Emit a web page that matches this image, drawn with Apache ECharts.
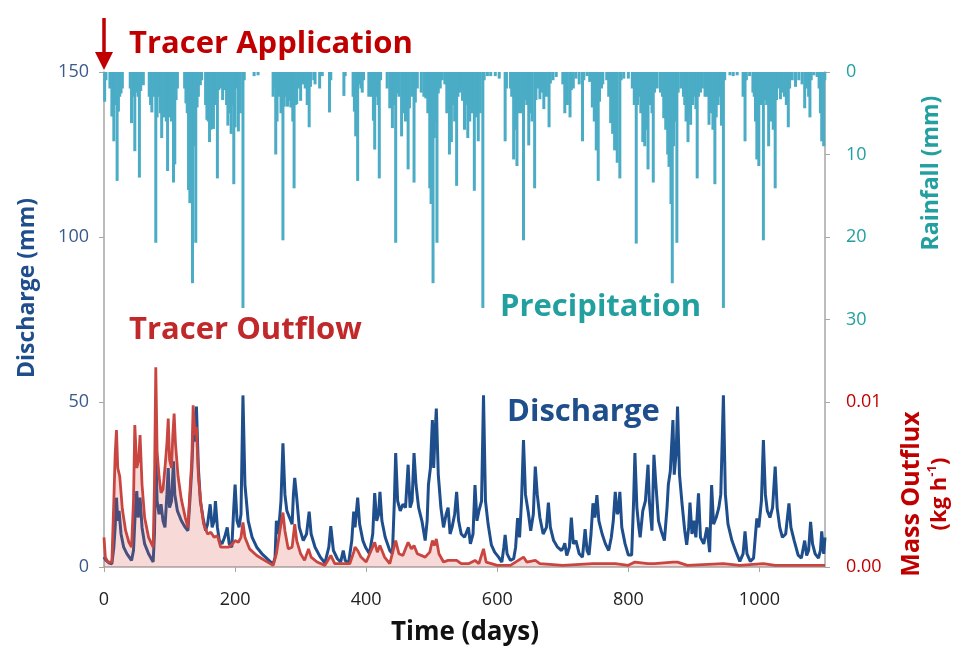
<!DOCTYPE html>
<html>
<head>
<meta charset="utf-8">
<script src="https://cdn.jsdelivr.net/npm/echarts@6/dist/echarts.min.js"></script>
<style>html,body{margin:0;padding:0;background:#fff;}#c{width:968px;height:655px;}</style>
</head>
<body>
<div id="c"></div>
<script>
// ---- Data ----
const xTicks = [0, 200, 400, 600, 800, 1000];
const dischargeTicks = [0, 50, 100, 150];
const rainTicks = [0, 10, 20, 30];
const outfluxTicks = [0, 0.01];

// Rainfall events: [day, mm]
const rainfall = [
[1,3.6],[3,1],[9,2],[12,5.4],[15,8.4],[17,4],[20,13.2],[22,4.8],[24,3],[26,2.6],[28,2],[40,2],[42,6.2],[44,3],[47,9.6],[49,2.5],[52,3],[54,12.8],[56,2.3],[58,1.5],[60,1.6],[69,3],[71,4],[73,4.9],[76,3],[79,20.7],[81,5.5],[84,3],[86,5],[88,8],[91,5.5],[93,4],[95,6],[97,12],[99,5.5],[101,4],[103,6],[106,13.4],[108,11.2],[110,3.4],[112,2],[123,2],[125,3.8],[127,5],[129,14.3],[131,15.9],[133,6],[135,25.6],[137,9],[140,20.7],[142,4.3],[144,3],[147,1.6],[149,1],[155,4],[157,5.8],[159,6],[161,8.5],[163,7],[165,5],[167,6.9],[170,4],[173,12.9],[175,2.2],[178,2],[181,3.4],[184,2.2],[187,4],[189,6.5],[192,5],[194,7.5],[196,4],[198,13.6],[200,6.7],[203,2],[205,7.2],[208,5],[212,28.6],[214,1],[229,0.5],[235,0.4],[258,3],[260,2],[262,10],[264,6],[267,3],[270,5],[273,20.4],[275,4.2],[278,3],[280,4.2],[283,3.5],[285,4.3],[288,6],[290,14.1],[292,4],[294,3.9],[297,2],[300,3.5],[303,1.5],[307,2],[310,4],[313,6.7],[315,1.8],[320,1],[322,1.5],[329,2],[333,0.5],[344,4.9],[346,1],[366,2.9],[368,0.5],
[380,3],[382,4.8],[384,7.8],[387,13.2],[389,1.5],[392,2],[394,2.5],[396,1],[404,3],[408,3],[411,5.9],[413,9.4],[416,3],[418,4],[420,12.9],[422,1],[432,2],[436,4.4],[440,6.8],[442,4],[445,20.7],[447,2.6],[450,3],[454,7.8],[457,5],[460,6],[464,11.8],[466,4.4],[470,3],[473,13.4],[475,3.7],[478,2],[484,2.5],[488,3],[491,3.2],[494,5],[497,14.1],[499,16],[502,25.6],[504,8],[506,6],[508,20.7],[510,2.6],[513,2],[516,1],[520,1.5],[523,5],[525,3.2],[527,10],[530,8.5],[532,4],[535,6],[538,13.8],[540,3],[543,2.5],[545,1.8],[547,3.5],[550,7],[552,4],[555,8],[558,6],[562,5],[565,14.4],[567,5.5],[569,3],[571,8.4],[574,5],[578,28.6],[580,1],[585,0.5],[590,0.5],[597,0.5],[603,0.8],[612,8.4],[614,2],[620,2],[622,3],[625,10.6],[628,7],[630,11.4],[633,5],[637,5],[640,20.4],[642,3.4],[645,4],[648,8.9],[650,5],[653,6],[657,14.1],[659,3.4],[662,2],[665,3.3],[668,2.5],[671,4.5],[675,3],[679,6.7],[681,1.4],[685,1],[690,0.6],[700,1.5],[703,5],[707,4],[711,5.5],[713,2.2],[716,2],[720,0.8],[725,1.5],[730,8.4],[732,1],[737,0.5],[741,1.2],[745,4.3],[748,6],[751,9.5],[754,13.2],[756,3.6],[759,2],[761,1.5],[767,1],[770,3],[773,6.2],[776,7.5],[779,9.5],[783,11],[787,12.9],[789,1],[793,0.8],[800,0.8],
[806,2],[809,4],[812,20.8],[814,4],[816,3],[819,5],[822,8.5],[825,9],[828,7],[830,11.8],[833,4],[836,5],[838,13.4],[840,2.5],[844,2],[849,2.5],[852,3],[854,5.6],[857,7],[860,10],[862,11.5],[865,16],[867,25.6],[869,9],[871,6],[874,20.7],[876,2.5],[880,2],[884,3],[886,4],[888,6],[891,8.5],[893,5],[895,6.4],[898,4],[900,3],[903,4.5],[905,12.9],[907,3],[910,2.5],[913,2],[917,3],[920,3],[923,6.4],[926,5],[929,7],[932,13.6],[934,5.5],[937,4],[940,3],[942,6.5],[945,28.6],[947,1],[955,0.4],[960,0.5],[966,0.4],[975,3],[978,8.4],[980,1],[985,0.5],[990,2.5],[992,3],[994,6],[996,10.6],[999,11.4],[1002,4],[1006,20.4],[1008,3.4],[1011,4],[1014,9],[1017,6],[1021,7],[1024,14.1],[1026,3.4],[1029,2],[1032,3.3],[1035,2.5],[1038,3],[1041,4],[1044,6.7],[1046,2],[1050,1],[1055,1.8],[1060,1],[1065,1.5],[1069,4.4],[1072,2],[1075,3],[1077,5.5],[1079,1],[1083,0.4],[1088,0.6],[1091,2],[1093,5],[1095,8.4],[1098,9],[1100,1]
];

// Discharge: [day, mm]
const discharge = [
[0,3],[3,2],[8,1.2],[12,1],[15,6],[17,12],[19,21],[21,14],[23,17],[26,10],[30,6],[35,4],[42,2],[45,5],[48,18],[50,23],[52,15],[55,21],[58,12],[62,7],[68,4],[75,1.5],[77,10],[79,36],[81,20],[84,16],[87,19],[90,14],[93,12],[96,22],[98,30],[100,18],[103,20],[106,32],[108,22],[112,17],[118,14],[124,12],[128,11],[131,20],[134,30],[137,46],[139,38],[141,48.6],[144,30],[147,20],[151,15],[155,11],[158,13],[162,19],[165,12],[168,14],[170,20],[173,12],[176,8],[180,7],[184,9],[188,12],[191,7],[195,6],[198,18],[200,25],[203,14],[206,12],[209,16],[212,52],[215,25],[220,14],[226,9],[233,6],[241,4],[250,2.3],[258,0.8],[261,3],[263,14],[266,10],[270,20],[273,37.5],[276,22],[279,17],[283,15],[287,13],[289,22],[291,27],[294,21],[298,12],[304,8],[309,10],[313,16.8],[316,10],[322,6],[330,3],[337,1.2],[343,6],[346,12.4],[350,5],[356,2.5],[361,1.5],[365,5],[368,2],[373,1],
[378,8],[381,16.8],[383,12],[387,21],[390,13],[395,8],[399,6],[405,4],[410,10],[413,22.4],[416,14],[419,16],[421,22.8],[424,14],[429,9],[436,5],[440,4],[443,20],[445,34.5],[448,20],[452,17],[456,19],[460,18],[464,31],[467,18],[470,20],[473,34.5],[476,25],[480,18],[485,14],[490,8],[493,14],[495,25],[498,30],[501,44.5],[503,30],[505,40],[507,48],[510,28],[514,18],[518,12],[522,16],[525,18],[528,10],[531,12],[535,16],[538,22.8],[541,14],[545,10],[550,9],[553,8.6],[556,12],[559,7],[563,10],[566,24.8],[569,14],[572,17],[576,20],[579,52],[582,20],[586,13],[591,6.7],[596,4.5],[602,3],[607,1.5],[610,6],[612,9.7],[615,4],[620,2],[625,2.5],[628,6],[631,14.8],[634,9],[637,20],[640,38.5],[643,22],[647,17],[651,11],[655,16],[658,30.4],[661,22],[665,15],[670,10],[675,12],[678,19.5],[681,12],[686,8],[692,6],[698,5],[701,6],[703,7.2],[706,3.5],[710,6],[713,15],[716,7],[720,8],[725,4],[730,3],[734,11.5],[737,5],[740,3.7],[743,10],[746,19.3],[749,15],[752,21.8],[755,14],[760,10],[765,7],[770,5],[774,9],[777,14],[780,22.8],[783,16],[785,17],[787,22.8],[790,12],[795,7],[800,3.6],[805,3.6],
[808,20],[810,34.5],[813,18],[816,12],[818,9],[822,17],[826,20],[830,31],[832,20],[836,11],[839,34],[842,25],[846,14],[850,11],[855,8],[859,18],[861,25],[864,29],[868,44.5],[870,28],[873,35],[875,48.6],[878,28],[882,19],[886,11],[889,6.7],[892,12],[894,19.5],[897,10],[900,14],[903,9],[907,22.3],[910,9],[915,7],[920,12],[924,4.5],[927,24.8],[930,13],[934,15],[938,18],[941,22],[945,52],[948,22],[952,13],[958,8],[964,4.7],[970,1.7],[975,4],[978,10.8],[981,4],[986,1.7],[991,2.7],[994,10],[996,14.7],[999,12],[1003,20],[1006,38.5],[1009,22],[1012,17],[1016,15],[1020,18],[1024,30.4],[1027,18],[1031,12],[1035,9],[1040,10],[1045,19.3],[1048,12],[1053,8],[1059,3.6],[1064,2.7],[1069,8],[1072,3.5],[1075,5],[1078,13.7],[1081,7],[1085,4],[1090,2.7],[1093,5],[1095,10.8],[1098,4],[1100,9]
];

// Tracer mass outflux: [day, kg/h]
const tracerOutflux = [
[0,0.0018],[2,0.0006],[6,0.0003],[12,0.0003],[15,0.004],[17,0.0068],[19,0.0083],[21,0.006],[24,0.0055],[28,0.0035],[33,0.0022],[38,0.0015],[42,0.0012],[45,0.004],[47,0.0086],[50,0.006],[53,0.0065],[55,0.008],[58,0.005],[62,0.003],[68,0.0018],[75,0.0012],[77,0.005],[79,0.0121],[81,0.007],[84,0.0055],[87,0.0045],[90,0.0047],[93,0.006],[96,0.0075],[98,0.009],[100,0.0065],[103,0.006],[105,0.008],[107,0.0093],[109,0.0075],[113,0.0055],[118,0.0041],[124,0.003],[128,0.0024],[131,0.0045],[134,0.0065],[136,0.0098],[139,0.008],[141,0.0085],[144,0.0055],[148,0.0038],[152,0.0026],[158,0.002],[163,0.0021],[168,0.0018],[173,0.0019],[178,0.0012],[184,0.0012],[190,0.0012],[196,0.0014],[200,0.0016],[205,0.0015],[209,0.0018],[212,0.0027],[215,0.0018],[222,0.0011],[233,0.0007],[245,0.0004],[258,0.0001],[263,0.0008],[268,0.0021],[273,0.0033],[276,0.0022],[281,0.0011],[287,0.0012],[291,0.0026],[294,0.0016],[300,0.0008],[306,0.0004],[312,0.0011],[316,0.0006],[325,0.0003],[337,0.0001],[346,0.0007],[352,0.0002],[368,0.0002],[375,0.0002],[381,0.0009],[383,0.0012],[387,0.001],[392,0.0006],[400,0.0003],[413,0.0015],[417,0.0009],[421,0.0013],[428,0.0006],[436,0.0002],[445,0.0016],[450,0.0008],[456,0.0007],[464,0.0015],[469,0.0011],[473,0.0013],[478,0.0008],[490,0.0006],[497,0.0009],[501,0.0016],[504,0.0013],[507,0.0017],[511,0.0008],[518,0.0003],[525,0.0004],[538,0.0004],[545,0.0002],[556,0.0002],[566,0.0004],[572,0.0002],[579,0.0011],[583,0.0003],[600,0.0001],[620,0.0001],[640,0.0006],[645,0.0003],[658,0.0004],[665,0.0002],[700,0.0001],[746,0.0002],[752,0.0002],[780,0.0002],[800,0.0001],[810,0.0003],[830,0.0002],[840,0.0002],[868,0.0003],[875,0.0003],[890,0.0001],[945,0.0002],[970,0.0001],[1006,0.0002],[1024,0.0001],[1050,0.0001],[1100,0.0001]
];

// ---- Chart ----
const FONT = '"Open Sans", "Noto Sans", sans-serif';
const DARKBLUE = '#1f4e8c';
const TEAL = '#22a0a0';
const DEEPRED = '#c00000';
const AXISGRAY = '#a6a6a6';

const chart = echarts.init(document.getElementById('c'), null, {renderer: 'canvas'});
const option = {
  animation: false,
  backgroundColor: '#ffffff',
  grid: {left: 104, right: 143, top: 72, bottom: 88},
  xAxis: {
    type: 'value', min: 0, max: 1100, interval: 200,
    axisLine: {show: true, lineStyle: {color: AXISGRAY, width: 1.5}},
    axisTick: {show: true, length: 5, lineStyle: {color: AXISGRAY}, customValues: xTicks},
    axisLabel: {customValues: xTicks, color: '#222', fontSize: 18, fontFamily: FONT, margin: 24,
      formatter: v => String(v)},
    splitLine: {show: false}
  },
  yAxis: [
    {
      type: 'value', min: 0, max: 150, interval: 50, position: 'left',
      axisLine: {show: true, lineStyle: {color: AXISGRAY, width: 1.5}},
      axisTick: {show: true, length: 5, lineStyle: {color: AXISGRAY}, customValues: dischargeTicks},
      axisLabel: {customValues: dischargeTicks, color: '#3a5a8c', fontSize: 18, fontFamily: FONT, margin: 15},
      splitLine: {show: false}
    },
    {
      type: 'value', min: 0, max: 60, inverse: true, position: 'right',
      axisLine: {show: true, lineStyle: {color: AXISGRAY, width: 1.5}},
      axisTick: {show: true, length: 5, lineStyle: {color: AXISGRAY}, customValues: rainTicks},
      axisLabel: {customValues: rainTicks, color: TEAL, fontSize: 18, fontFamily: FONT, margin: 21},
      splitLine: {show: false}
    },
    {
      type: 'value', min: 0, max: 0.03, position: 'right',
      axisLine: {show: false},
      axisTick: {show: true, length: 5, lineStyle: {color: AXISGRAY}, customValues: outfluxTicks},
      axisLabel: {customValues: outfluxTicks, color: DEEPRED, fontSize: 18, fontFamily: FONT, margin: 21,
        formatter: v => v.toFixed(2)},
      splitLine: {show: false}
    }
  ],
  series: [
    {
      name: 'Precipitation', type: 'bar', xAxisIndex: 0, yAxisIndex: 1,
      data: rainfall, barWidth: 3, itemStyle: {color: '#4bacc6'}, z: 1
    },
    {
      name: 'Discharge', type: 'line', xAxisIndex: 0, yAxisIndex: 0,
      data: discharge, showSymbol: false, symbol: 'none',
      lineStyle: {color: DARKBLUE, width: 3}, z: 2
    },
    {
      name: 'Tracer Outflow', type: 'line', xAxisIndex: 0, yAxisIndex: 2,
      data: tracerOutflux, showSymbol: false, symbol: 'none',
      lineStyle: {color: '#c9453f', width: 2.8},
      areaStyle: {color: 'rgba(220,90,80,0.32)'}, z: 3
    }
  ],
  graphic: [
    // Tracer application arrow
    {type: 'line', shape: {x1: 104, y1: 18, x2: 104, y2: 56}, style: {stroke: DEEPRED, lineWidth: 3.5}, z: 10},
    {type: 'polygon', shape: {points: [[95, 52], [113, 52], [104, 70]]}, style: {fill: DEEPRED}, z: 10},
    {type: 'text', x: 129, y: 44, z: 10, style: {text: 'Tracer Application', font: 'bold 31px ' + FONT, fill: DEEPRED, verticalAlign: 'middle', align: 'left'}},
    {type: 'text', x: 129, y: 330, z: 10, style: {text: 'Tracer Outflow', font: 'bold 31px ' + FONT, fill: '#c0282a', verticalAlign: 'middle', align: 'left'}},
    {type: 'text', x: 500, y: 307, z: 10, style: {text: 'Precipitation', font: 'bold 31px ' + FONT, fill: TEAL, verticalAlign: 'middle', align: 'left'}},
    {type: 'text', x: 507, y: 412, z: 10, style: {text: 'Discharge', font: 'bold 31px ' + FONT, fill: DARKBLUE, verticalAlign: 'middle', align: 'left'}},
    // axis titles
    {type: 'text', x: 27, y: 288, rotation: Math.PI / 2, z: 10, style: {text: 'Discharge (mm)', font: 'bold 23px ' + FONT, fill: DARKBLUE, align: 'center', verticalAlign: 'middle'}},
    {type: 'text', x: 931, y: 173, rotation: Math.PI / 2, z: 10, style: {text: 'Rainfall (mm)', font: 'bold 23px ' + FONT, fill: TEAL, align: 'center', verticalAlign: 'middle'}},
    {type: 'text', x: 926, y: 494, rotation: Math.PI / 2, z: 10, style: {
      text: '{a|Mass Outflux}\n{b|(kg h}{s|-1}{b|)}', align: 'center', verticalAlign: 'middle',
      rich: {
        a: {font: 'bold 25px ' + FONT, fill: DEEPRED, lineHeight: 28, align: 'center'},
        b: {font: 'bold 22px ' + FONT, fill: DEEPRED, lineHeight: 28, align: 'center'},
        s: {font: 'bold 13px ' + FONT, fill: DEEPRED, lineHeight: 28, verticalAlign: 'top', padding: [0, 0, 10, 0]}
      }
    }},
    {type: 'text', x: 465, y: 633, z: 10, style: {text: 'Time (days)', font: 'bold 26px ' + FONT, fill: '#111', align: 'center', verticalAlign: 'middle'}}
  ]
};
chart.setOption(option);
</script>
</body>
</html>
